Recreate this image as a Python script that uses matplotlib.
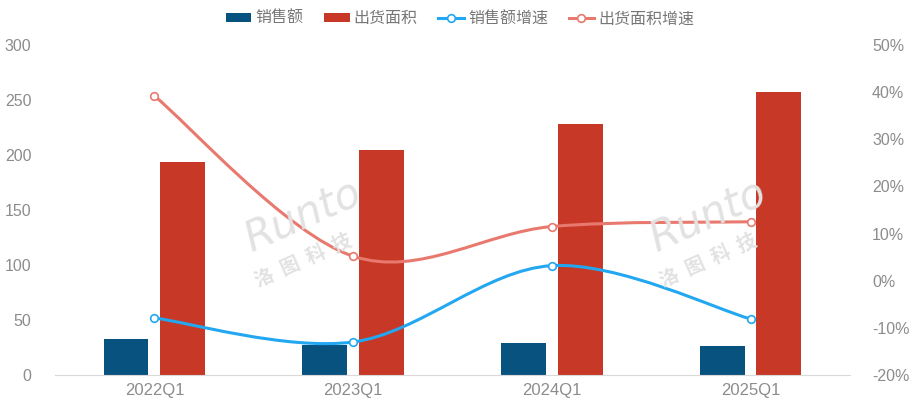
import numpy as np
import matplotlib.pyplot as plt
from matplotlib.path import Path
from matplotlib.patches import PathPatch

plt.rcParams['font.family'] = ['Liberation Sans', 'Noto Sans CJK SC', 'DejaVu Sans']

quarters = ["2022Q1", "2023Q1", "2024Q1", "2025Q1"]
sales = [32.5, 27.3, 28.8, 26.4]
area = [193.6, 204.5, 228, 257]
sales_growth = [-7.9, -13.0, 3.2, -8.1]
area_growth = [39.2, 5.2, 11.5, 12.5]

c_sales = "#08527f"
c_area = "#c73826"
c_sales_g = "#22a7f0"
c_area_g = "#e8796e"
grey = "#8c8c8c"


def smooth_path(xs, ys, t=0.5):
    # catmull-rom style bezier segments, like excel smoothed lines
    verts = [(xs[0], ys[0])]
    codes = [Path.MOVETO]
    n = len(xs)
    for i in range(n - 1):
        x0, y0 = (xs[i - 1], ys[i - 1]) if i > 0 else (xs[i], ys[i])
        x1, y1 = xs[i], ys[i]
        x2, y2 = xs[i + 1], ys[i + 1]
        x3, y3 = (xs[i + 2], ys[i + 2]) if i + 2 < n else (x2, y2)
        c1 = (x1 + (x2 - x0) * t / 3, y1 + (y2 - y0) * t / 3)
        c2 = (x2 - (x3 - x1) * t / 3, y2 - (y3 - y1) * t / 3)
        verts += [c1, c2, (x2, y2)]
        codes += [Path.CURVE4] * 3
    return Path(verts, codes)


fig = plt.figure(figsize=(9.2, 4.07), dpi=100)
ax = fig.add_axes([0.0598, 0.0786, 0.864, 0.8108])
ax2 = ax.twinx()

x = np.arange(len(quarters))
w = 0.226
ax.bar(x - 0.143, sales, w, color=c_sales, label="销售额", zorder=2)
ax.bar(x + 0.143, area, w, color=c_area, label="出货面积", zorder=2)

ax.set_xlim(-0.5, 3.5)
ax.set_ylim(0, 300)
ax.set_yticks(range(0, 301, 50))
ax.set_xticks(x)
ax.set_xticklabels(quarters)
ax.tick_params(axis="both", length=0, colors=grey, labelsize=11.5)
ax.tick_params(axis="x", pad=6, labelsize=12)
ax.tick_params(axis="y", pad=17)
for s in ["top", "left", "right"]:
    ax.spines[s].set_visible(False)
ax.spines["bottom"].set_color("#d9d9d9")

ax2.set_ylim(-20, 50)
ax2.set_yticks(range(-20, 51, 10))
ax2.set_yticklabels([f"{v}%" for v in range(-20, 51, 10)])
ax2.tick_params(axis="y", length=0, colors=grey, labelsize=11.5, pad=16)
for s in ax2.spines.values():
    s.set_visible(False)

for vals, col, lab in [(sales_growth, c_sales_g, "销售额增速"), (area_growth, c_area_g, "出货面积增速")]:
    p = smooth_path(list(x), vals)
    ax2.add_patch(PathPatch(p, fill=False, edgecolor=col, lw=2.2, zorder=3))
    ax2.plot(x, vals, ls="none", marker="o", ms=5.5, mfc="white", mec=col, mew=1.2, zorder=4)
    ax2.plot([], [], color=col, lw=2.2, marker="o", ms=5.5, mfc="white", mec=col, mew=1.2, label=lab)

# watermarks
for wx in [0.33, 0.77]:
    fig.text(wx, 0.47, "Runto", fontsize=30, color="#e2e2e2", style="italic",
             rotation=24, ha="center", va="center", family="DejaVu Sans", zorder=0)
    fig.text(wx + 0.0, 0.36, "洛  图  科  技", fontsize=14, color="#e2e2e2", weight="bold",
             rotation=24, ha="center", va="center", family="Noto Sans CJK SC", zorder=0)

h1, l1 = ax.get_legend_handles_labels()
h2, l2 = ax2.get_legend_handles_labels()
fig.legend(h1 + h2, l1 + l2, loc="upper center", bbox_to_anchor=(0.5, 1.01), ncol=4,
           frameon=False, prop={"family": "Noto Sans CJK SC", "size": 11.5}, labelcolor="#777777",
           handlelength=1.6, handleheight=0.5, columnspacing=1.3, handletextpad=0.25)

fig.savefig("out.png", dpi=100)
